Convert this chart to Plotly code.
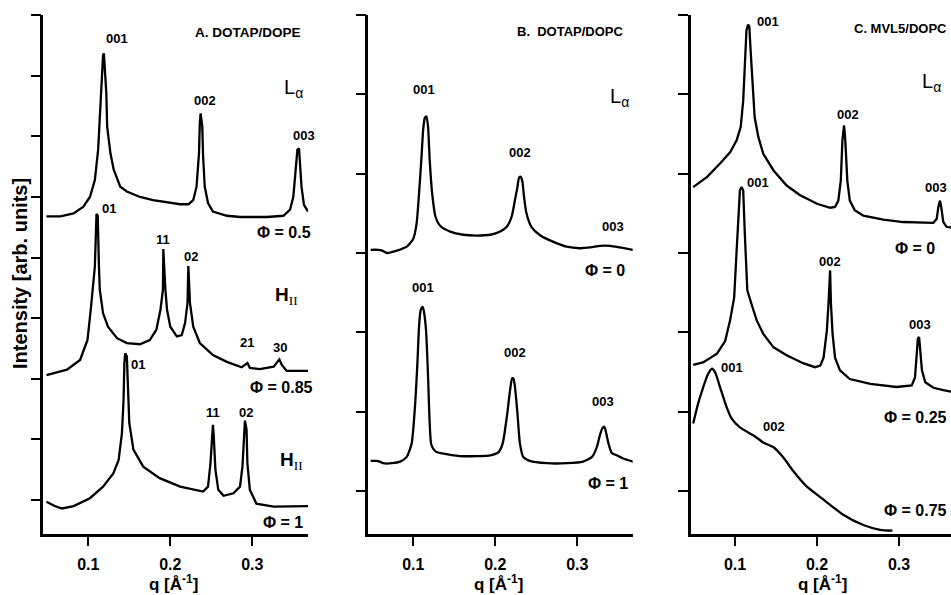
import plotly.graph_objects as go

W, H = 951, 595
FONT = "Liberation Sans, Arial, sans-serif"

# ---------------- data (q in 1/Angstrom, intensity in arb. units) ----------------
# Panel A: DOTAP/DOPE
A1_q = [0.049,0.066,0.082,0.094,0.102,0.108,0.112,0.114,0.116,0.118,0.119,0.120,0.122,0.123,0.127,0.131,0.139,0.147,0.163,0.179,0.196,0.212,0.222,0.228,0.232,0.235,0.236,0.237,0.239,0.240,0.242,0.246,0.252,0.269,0.285,0.318,0.338,0.346,0.350,0.353,0.355,0.357,0.358,0.360,0.363,0.368]
A1_I = [4.68,4.68,4.73,4.84,5.00,5.28,5.78,6.33,7.04,7.34,7.37,7.15,6.71,6.16,5.72,5.45,5.17,5.09,5.00,4.95,4.91,4.88,4.88,4.95,5.17,5.72,6.22,6.38,6.16,5.67,5.17,4.90,4.76,4.69,4.67,4.67,4.69,4.79,5.00,5.45,5.78,5.80,5.61,5.17,4.87,4.76]

A2_q = [0.049,0.074,0.090,0.099,0.103,0.105,0.108,0.110,0.1115,0.113,0.114,0.118,0.124,0.135,0.147,0.163,0.175,0.183,0.188,0.191,0.1915,0.194,0.196,0.200,0.208,0.214,0.218,0.221,0.222,0.224,0.228,0.236,0.252,0.269,0.287,0.291,0.294,0.297,0.309,0.326,0.3305,0.333,0.336,0.342,0.368]
A2_I = [2.06,2.15,2.31,2.64,3.14,3.47,3.85,4.72,4.69,3.85,3.47,3.08,2.86,2.67,2.59,2.57,2.64,2.81,3.14,3.47,4.14,3.47,3.14,2.86,2.70,2.72,2.92,3.25,3.86,3.25,2.86,2.59,2.39,2.28,2.19,2.23,2.26,2.18,2.16,2.20,2.28,2.32,2.23,2.13,2.13]

A3_q = [0.049,0.059,0.068,0.082,0.102,0.118,0.1305,0.137,0.141,0.143,0.144,0.145,0.147,0.148,0.150,0.155,0.167,0.187,0.212,0.240,0.246,0.249,0.251,0.252,0.253,0.255,0.2585,0.265,0.277,0.285,0.288,0.290,0.291,0.293,0.294,0.297,0.305,0.326,0.368]
A3_I = [-0.03,-0.10,-0.14,-0.10,0.03,0.22,0.44,0.66,1.10,1.65,2.26,2.42,2.37,1.93,1.27,0.83,0.55,0.36,0.22,0.14,0.22,0.61,1.10,1.24,1.05,0.50,0.17,0.07,0.11,0.22,0.55,1.10,1.31,1.16,0.61,0.17,-0.06,-0.11,-0.10]

# Panel B: DOTAP/DOPC
B1_q = [0.048,0.057,0.062,0.068,0.080,0.092,0.100,0.104,0.107,0.110,0.112,0.114,0.116,0.118,0.120,0.123,0.127,0.133,0.145,0.161,0.177,0.194,0.206,0.214,0.220,0.224,0.227,0.229,0.231,0.233,0.235,0.238,0.244,0.255,0.271,0.287,0.303,0.316,0.328,0.340,0.352,0.368]
B1_I = [3.04,3.04,3.03,3.00,3.03,3.08,3.18,3.37,3.75,4.21,4.55,4.70,4.72,4.59,4.17,3.75,3.46,3.34,3.27,3.23,3.22,3.23,3.27,3.33,3.46,3.67,3.83,3.95,3.96,3.90,3.71,3.50,3.33,3.22,3.14,3.08,3.06,3.07,3.09,3.09,3.07,3.04]

B2_q = [0.048,0.055,0.059,0.063,0.074,0.084,0.092,0.098,0.102,0.105,0.107,0.109,0.1115,0.113,0.1155,0.118,0.120,0.122,0.127,0.137,0.157,0.177,0.194,0.204,0.209,0.214,0.218,0.2205,0.222,0.224,0.227,0.230,0.234,0.242,0.263,0.287,0.307,0.318,0.324,0.328,0.3305,0.333,0.335,0.338,0.342,0.348,0.356,0.368]
B2_I = [0.38,0.38,0.37,0.35,0.35,0.37,0.43,0.60,1.06,1.61,2.07,2.28,2.32,2.26,2.03,1.44,0.85,0.58,0.50,0.47,0.44,0.44,0.45,0.49,0.60,0.93,1.27,1.42,1.42,1.31,0.98,0.60,0.43,0.38,0.35,0.35,0.37,0.43,0.56,0.72,0.79,0.81,0.74,0.60,0.48,0.45,0.41,0.37]

# Panel C: MVL5/DOPC
C1_q = [0.049,0.066,0.082,0.094,0.102,0.107,0.110,0.112,0.114,0.116,0.1175,0.119,0.122,0.124,0.1285,0.1345,0.147,0.163,0.179,0.200,0.216,0.222,0.226,0.229,0.231,0.233,0.2345,0.237,0.240,0.246,0.2565,0.281,0.305,0.330,0.342,0.346,0.348,0.350,0.3515,0.354,0.358,0.364]
C1_I = [3.83,3.96,4.13,4.27,4.42,4.59,4.92,5.35,5.81,5.88,5.85,5.56,5.09,4.71,4.46,4.25,4.04,3.85,3.73,3.62,3.57,3.58,3.66,3.91,4.42,4.61,4.42,3.91,3.66,3.54,3.47,3.42,3.39,3.38,3.38,3.43,3.58,3.66,3.58,3.39,3.33,3.32]

C2_q = [0.049,0.061,0.078,0.088,0.094,0.099,0.102,0.104,0.106,0.108,0.110,0.112,0.114,0.115,0.120,0.1265,0.1345,0.147,0.163,0.183,0.1975,0.204,0.208,0.212,0.214,0.216,0.217,0.219,0.222,0.228,0.240,0.265,0.297,0.3155,0.3195,0.3215,0.323,0.3245,0.3255,0.328,0.332,0.342,0.354,0.364]
C2_I = [1.59,1.62,1.73,1.89,2.15,2.44,3.03,3.45,3.79,3.83,3.79,3.24,2.82,2.53,2.36,2.15,1.98,1.81,1.71,1.61,1.56,1.58,1.68,2.02,2.36,2.78,2.36,1.98,1.68,1.52,1.41,1.35,1.31,1.33,1.43,1.68,1.92,1.94,1.81,1.52,1.37,1.30,1.27,1.25]

C3_q = [0.049,0.055,0.061,0.067,0.072,0.076,0.082,0.090,0.096,0.106,0.124,0.1345,0.147,0.159,0.171,0.187,0.208,0.232,0.2565,0.277,0.292]
C3_I = [0.85,1.10,1.30,1.47,1.54,1.49,1.30,1.05,0.91,0.80,0.69,0.61,0.55,0.42,0.25,0.06,-0.11,-0.30,-0.43,-0.49,-0.50]

x_tickvals = [0.1, 0.2, 0.3]
x_ticktext = ["0.1", "0.2", "0.3"]

# ---------------- figure ----------------
fig = go.Figure()

def add_curve(q, I, xa, ya, shape="linear"):
    assert len(q) == len(I)
    fig.add_trace(go.Scatter(x=q, y=I, mode="lines",
                             line=dict(color="black", width=2.3, shape=shape, smoothing=0.6),
                             xaxis=xa, yaxis=ya, showlegend=False, hoverinfo="skip"))

add_curve(A1_q, A1_I, "x", "y")
add_curve(A2_q, A2_I, "x", "y")
add_curve(A3_q, A3_I, "x", "y")
add_curve(B1_q, B1_I, "x2", "y2", "spline")
add_curve(B2_q, B2_I, "x2", "y2", "spline")
add_curve(C1_q, C1_I, "x3", "y3")
add_curve(C2_q, C2_I, "x3", "y3")
add_curve(C3_q, C3_I, "x3", "y3", "spline")

common = dict(showline=True, linecolor="black", linewidth=2.6, ticks="outside",
              tickcolor="black", tickwidth=2.4, showgrid=False, zeroline=False,
              fixedrange=True)
xcommon = dict(common, ticklen=9, tickvals=x_tickvals, ticktext=x_ticktext,
               ticklabelstandoff=5,
               tickfont=dict(family=FONT, size=16, color="black", weight="bold"))
ycommon = dict(common, ticklen=10, tick0=0, dtick=1, showticklabels=False)

ydom = [1 - 534.3 / H, 1 - 15 / H]
fig.update_layout(
    width=W, height=H, margin=dict(l=0, r=0, t=0, b=0),
    paper_bgcolor="white", plot_bgcolor="white",
    xaxis=dict(xcommon, domain=[43.3 / W, 308 / W], range=[0.04512, 0.36793], anchor="y"),
    yaxis=dict(ycommon, domain=ydom, range=[-0.566, 8.003], anchor="x"),
    xaxis2=dict(xcommon, domain=[368.3 / W, 632.7 / W], range=[0.04512, 0.36756], anchor="y2"),
    yaxis2=dict(ycommon, domain=ydom, range=[-0.546, 6.0], anchor="x2"),
    xaxis3=dict(xcommon, domain=[690.7 / W, 1.0], range=[0.04598, 0.36341], anchor="y3"),
    yaxis3=dict(ycommon, domain=ydom, range=[-0.547, 6.0], anchor="x3"),
)

anns = []
def ann(text, px, py, size=13, bold=True, xanchor="center"):
    anns.append(dict(text=text, x=px / W, y=1 - py / H, xref="paper", yref="paper",
                     xanchor=xanchor, yanchor="middle", showarrow=False,
                     font=dict(family=FONT, size=size, color="black",
                               weight="bold" if bold else "normal")))

LA = "L<sub>α</sub>"
HII = "<b>H</b><sub><span style='font-family:Liberation Serif,Times New Roman,serif'>II</span></sub>"

# Panel A
ann("A. DOTAP/DOPE", 193, 32, 13.5, xanchor="left")
ann("001", 117, 38)
ann(LA, 282, 88, 20, bold=False, xanchor="left")
ann("002", 205, 100)
ann("003", 304, 136)
ann("Φ = 0.5", 313, 233, 16, xanchor="right")
ann("01", 109, 208)
ann("11", 163, 239)
ann("02", 191, 256)
ann(HII, 273, 296, 19, bold=False, xanchor="left")
ann("21", 247, 343)
ann("30", 280, 347)
ann("Φ = 0.85", 315, 387, 16, xanchor="right")
ann("01", 138, 364)
ann("11", 213, 412)
ann("02", 246, 412)
ann(HII, 278, 461, 19, bold=False, xanchor="left")
ann("Φ = 1", 305, 522, 16, xanchor="right")

# Panel B
ann("B.\u00a0 DOTAP/DOPC", 515, 31, 13, xanchor="left")
ann("001", 424, 89)
ann(LA, 608, 98, 20, bold=False, xanchor="left")
ann("002", 520, 152)
ann("003", 613, 226)
ann("Φ = 0", 627, 271, 16, xanchor="right")
ann("001", 423, 287)
ann("002", 515, 352)
ann("003", 603, 401)
ann("Φ = 1", 630, 483, 16, xanchor="right")

# Panel C
ann("C. MVL5/DOPC", 949, 28, 13, xanchor="right")
ann("001", 768, 22)
ann(LA, 920, 83, 20, bold=False, xanchor="left")
ann("002", 848, 115)
ann("003", 949, 187, xanchor="right")
ann("Φ = 0", 937, 248, 16, xanchor="right")
ann("001", 758, 182)
ann("002", 830, 261)
ann("003", 920, 324)
ann("Φ = 0.25", 949, 417, 16, xanchor="right")
ann("001", 732, 367)
ann("002", 774, 426)
ann("Φ = 0.75", 949, 510, 16, xanchor="right")

# axis titles
for cx in (173, 499, 822):
    ann("q [Å<sup>-1</sup>]", cx, 583, 17)
anns.append(dict(text="Intensity [arb. units]", x=20 / W, y=1 - 274 / H, xref="paper", yref="paper",
                 xanchor="center", yanchor="middle", showarrow=False, textangle=-90,
                 font=dict(family=FONT, size=20, color="black", weight="bold")))

fig.update_layout(annotations=anns)
fig.write_html("out.html", config={"displayModeBar": False},
               post_script="document.body.style.margin='0';document.body.style.overflow='hidden';")
